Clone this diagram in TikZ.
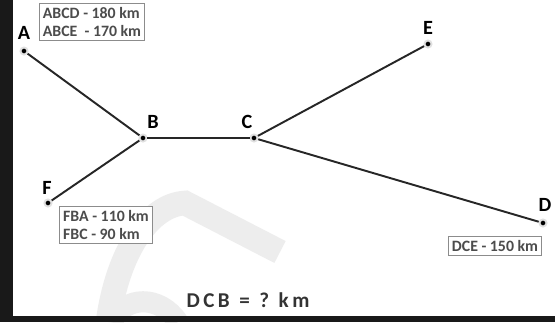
\documentclass[tikz,border=0pt]{standalone}
\usepackage{fontspec}
\setmainfont{Carlito}
\usepackage{xcolor}
\usetikzlibrary{positioning}

\begin{document}
\begin{tikzpicture}[x=0.02cm, y=-0.02cm,
    town/.style={circle, fill=black, draw=black!12, line width=1.1pt, inner sep=0pt, minimum size=4pt},
    townlabel/.style={font=\fontsize{11.5}{11.5}\selectfont\bfseries, inner sep=0pt},
    road/.style={line width=1.1pt, black!85},
    infobox/.style={draw=black!45, line width=0.6pt, fill=white, align=left, inner sep=2pt,
        font=\fontsize{9}{10.2}\selectfont\bfseries, text=black!70}]

\useasboundingbox (0,0) rectangle (555,322);
\fill[white] (0,0) rectangle (555,322);
% watermark
\draw[black!7, line width=14pt] (108,322) .. controls (118,250) and (150,205) .. (185,203) -- (280,252);
\draw[black!7, line width=12pt] (112,322) .. controls (125,295) and (160,295) .. (178,322);
% frame
\fill[black!90] (0,0) rectangle (13,322);
\fill[black!90] (0,316) rectangle (555,322);

\node[town] (town_A) at (24,51) {};
\node[town] (town_B) at (143,138) {};
\node[town] (town_C) at (254,138) {};
\node[town] (town_E) at (428,44) {};
\node[town] (town_D) at (543,223) {};
\node[town] (town_F) at (48,203) {};

\node[townlabel] (label_A) at (24,33) {A};
\node[townlabel] (label_B) at (153,122) {B};
\node[townlabel] (label_C) at (247,122) {C};
\node[townlabel] (label_E) at (428,28) {E};
\node[townlabel] (label_D) at (545,205) {D};
\node[townlabel] (label_F) at (47,188) {F};

\draw[road] (town_A) -- (town_B);
\draw[road] (town_F) -- (town_B);
\draw[road] (town_B) -- (town_C);
\draw[road] (town_C) -- (town_E);
\draw[road] (town_C) -- (town_D);

\node[infobox] (box_A) at (92,22) {ABCD - 180 km\\ABCE\ \ - 170 km};
\node[infobox] (box_F) at (106,225) {FBA - 110 km\\FBC - 90 km};
\node[infobox] (box_D) at (495,246) {DCE - 150 km};

\node[font=\fontsize{12}{14}\selectfont\bfseries, text=black!80] (question) at (248,300)
    {D\,C\,B\ \ =\ \ ?\ \ k\,m};

\end{tikzpicture}
\end{document}
